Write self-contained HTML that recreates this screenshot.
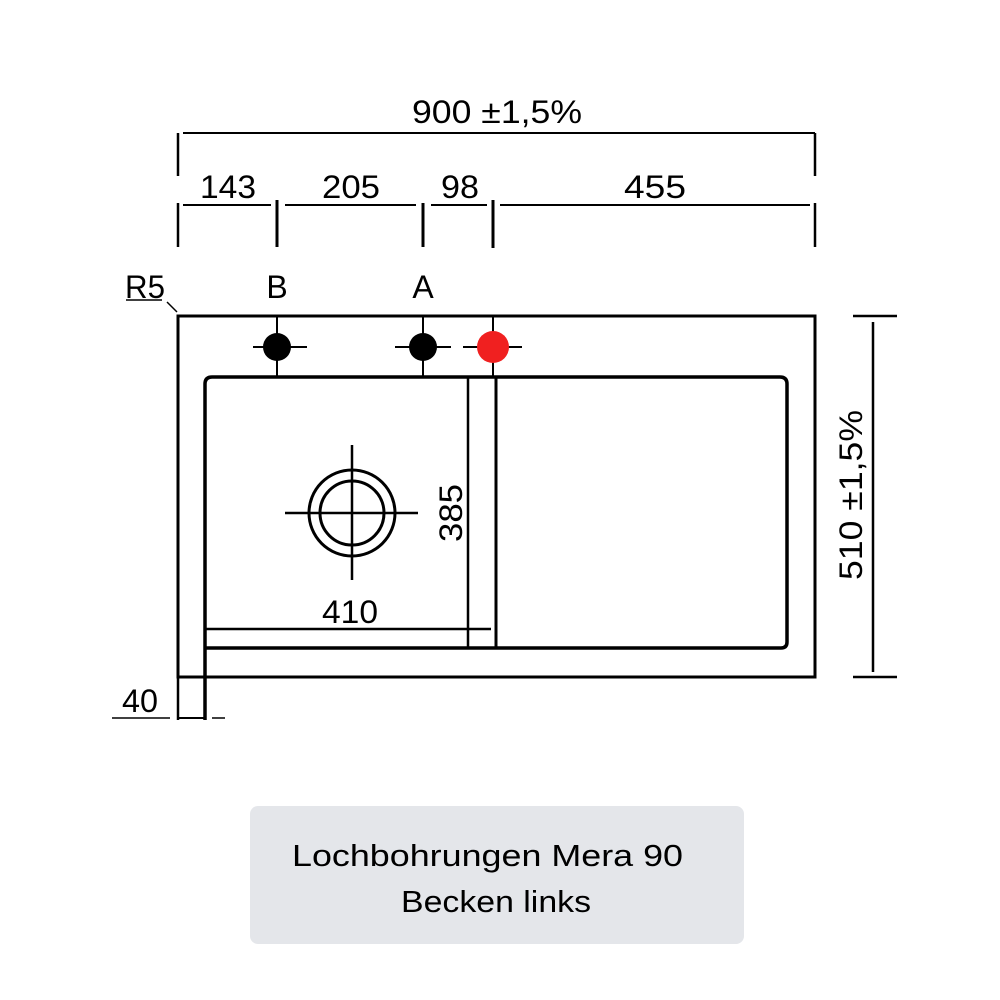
<!DOCTYPE html>
<html><head><meta charset="utf-8"><style>
html,body{margin:0;padding:0;background:#fff;}
svg{display:block;}
</style></head><body>
<svg width="1000" height="1000" viewBox="0 0 1000 1000" xmlns="http://www.w3.org/2000/svg">
<rect width="1000" height="1000" fill="#fff"/>
<g stroke="#000" fill="none" stroke-width="2">
<!-- top overall dimension -->
<line x1="183" y1="133" x2="815" y2="133"/>
<line x1="178" y1="133" x2="178" y2="176" stroke-width="2.5"/>
<line x1="815" y1="133" x2="815" y2="176" stroke-width="2.5"/>
<!-- second dimension -->
<line x1="183" y1="205" x2="271" y2="205"/>
<line x1="285" y1="205" x2="416" y2="205"/>
<line x1="431" y1="205" x2="487" y2="205"/>
<line x1="500" y1="205" x2="810" y2="205"/>
<line x1="178" y1="203" x2="178" y2="247" stroke-width="2.5"/>
<line x1="277" y1="200" x2="277" y2="247" stroke-width="3"/>
<line x1="423" y1="203" x2="423" y2="247" stroke-width="3"/>
<line x1="493" y1="200" x2="493" y2="248" stroke-width="3"/>
<line x1="815" y1="203" x2="815" y2="247" stroke-width="2.5"/>
<!-- R5 -->
<line x1="126" y1="300" x2="162" y2="300" stroke-width="1.5"/>
<line x1="167" y1="302" x2="177" y2="312" stroke-width="1.5"/>
<!-- outer rect -->
<rect x="178" y="316" width="637" height="361" stroke-width="3"/>
<!-- crosshairs top -->
<line x1="253" y1="347" x2="307" y2="347"/>
<line x1="277" y1="316" x2="277" y2="377"/>
<line x1="395" y1="347" x2="451" y2="347"/>
<line x1="423" y1="316" x2="423" y2="377"/>
<line x1="463" y1="347" x2="522" y2="347"/>
<line x1="493" y1="316" x2="493" y2="377"/>
<!-- basin outline -->
<path d="M205 720 L205 384 Q205 377 212 377 L780 377 Q787 377 787 384 L787 642 Q787 648 781 648 L205 648" stroke-width="3.5"/>
<line x1="468" y1="377" x2="468" y2="648" stroke-width="2.5"/>
<line x1="496" y1="377" x2="496" y2="648" stroke-width="3"/>
<line x1="205" y1="629" x2="491" y2="629" stroke-width="2.5"/>
<!-- drain -->
<circle cx="352" cy="513" r="43" stroke-width="3"/>
<circle cx="352" cy="513" r="32" stroke-width="3"/>
<line x1="285" y1="513" x2="418" y2="513" stroke-width="2.5"/>
<line x1="352" y1="445" x2="352" y2="580" stroke-width="2.5"/>
<!-- right dim -->
<line x1="873" y1="322" x2="873" y2="672" stroke-width="2.5"/>
<line x1="853" y1="316" x2="897" y2="316" stroke-width="2.5"/>
<line x1="853" y1="677" x2="897" y2="677" stroke-width="2.5"/>
<!-- bottom 40 -->
<line x1="178" y1="677" x2="178" y2="720" stroke-width="2.5"/>
<line x1="112" y1="718" x2="170" y2="718" stroke-width="1.5"/>
<line x1="178" y1="718" x2="205" y2="718" stroke-width="2"/>
<line x1="212" y1="718" x2="225" y2="718" stroke-width="1.5"/>
</g>
<circle cx="277" cy="347" r="14" fill="#000"/>
<circle cx="423" cy="347" r="14" fill="#000"/>
<circle cx="493" cy="347" r="16" fill="#f02020"/>
<g font-family="Liberation Sans, sans-serif" font-size="32" fill="#000" text-anchor="middle">
<text x="497" y="123" textLength="170" lengthAdjust="spacingAndGlyphs">900 ±1,5%</text>
<text x="228" y="198" textLength="56" lengthAdjust="spacingAndGlyphs">143</text>
<text x="351" y="198" textLength="58" lengthAdjust="spacingAndGlyphs">205</text>
<text x="460" y="198" textLength="38" lengthAdjust="spacingAndGlyphs">98</text>
<text x="655" y="198" textLength="62" lengthAdjust="spacingAndGlyphs">455</text>
<text x="277" y="298">B</text>
<text x="423" y="298">A</text>
<text x="145" y="298" textLength="40" lengthAdjust="spacingAndGlyphs">R5</text>
<text x="350" y="623" textLength="56" lengthAdjust="spacingAndGlyphs">410</text>
<text x="140" y="712" textLength="36" lengthAdjust="spacingAndGlyphs">40</text>
<text transform="translate(462,513) rotate(-90)" textLength="58" lengthAdjust="spacingAndGlyphs">385</text>
<text transform="translate(862,495) rotate(-90)" textLength="170" lengthAdjust="spacingAndGlyphs">510 ±1,5%</text>
</g>
<rect x="250" y="806" width="494" height="138" rx="8" fill="#e4e6ea"/>
<g font-family="Liberation Sans, sans-serif" font-size="31" fill="#000">
<text x="292" y="866" textLength="391" lengthAdjust="spacingAndGlyphs">Lochbohrungen Mera 90</text>
<text x="401" y="912" textLength="190" lengthAdjust="spacingAndGlyphs">Becken links</text>
</g>
</svg>
</body></html>
